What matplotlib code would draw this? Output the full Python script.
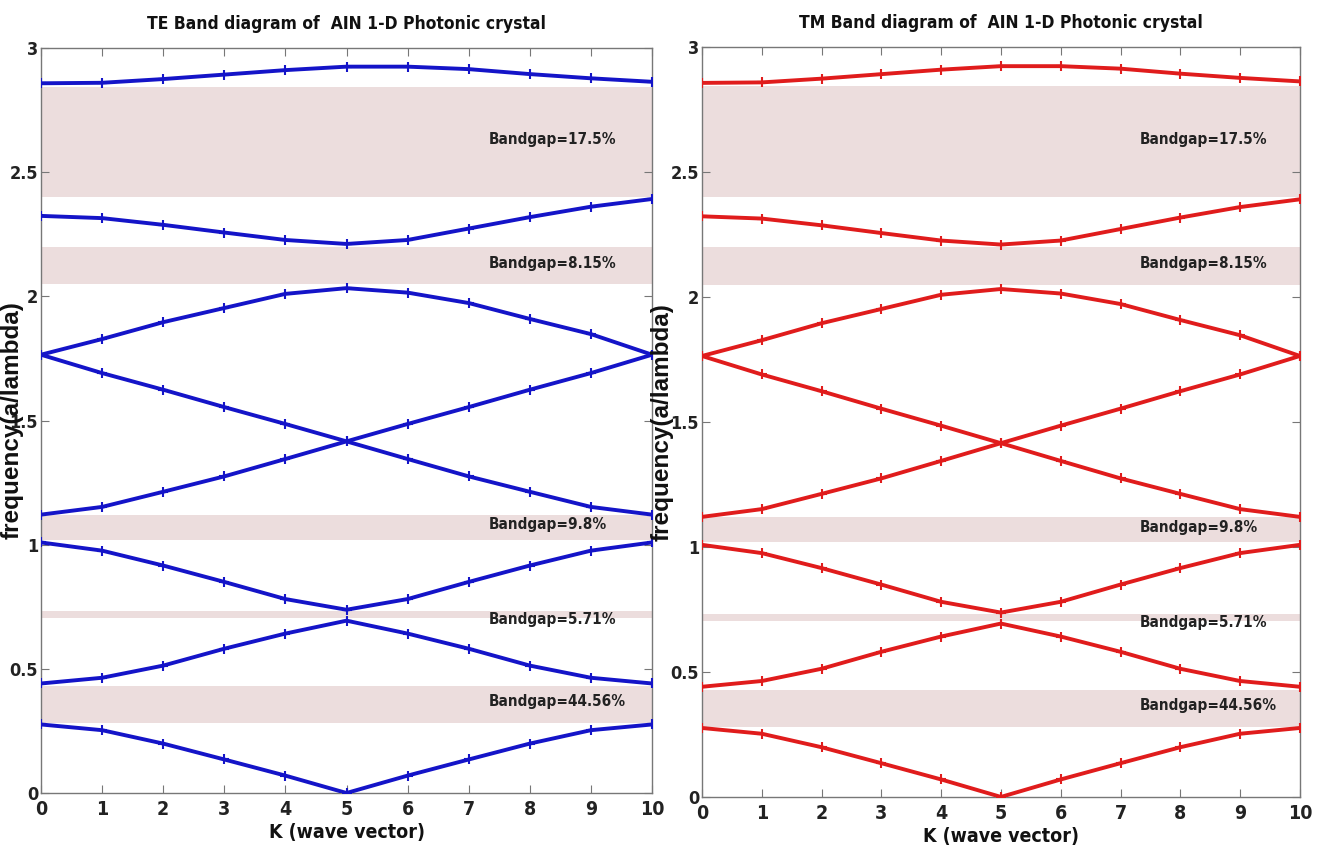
import numpy as np
import matplotlib
matplotlib.use("Agg")
import matplotlib.pyplot as plt
from matplotlib import font_manager as fm

# wave vector samples
k = np.arange(0, 11)

# bands (same for TE and TM)
band1 = [0.276, 0.253, 0.199, 0.135, 0.070, 0.0, 0.070, 0.135, 0.199, 0.253, 0.276]
band2 = [0.441, 0.464, 0.513, 0.581, 0.642, 0.694, 0.642, 0.581, 0.513, 0.464, 0.441]
band3 = [1.009, 0.976, 0.916, 0.850, 0.781, 0.738, 0.781, 0.850, 0.916, 0.976, 1.009]
band4 = [1.121, 1.152, 1.213, 1.275, 1.345, 1.416, 1.345, 1.275, 1.213, 1.152, 1.121]
band5 = [1.765, 1.691, 1.624, 1.554, 1.486, 1.416, 1.486, 1.554, 1.624, 1.691, 1.765]
band6 = [1.765, 1.828, 1.896, 1.953, 2.010, 2.033, 2.015, 1.973, 1.909, 1.848, 1.765]
band7 = [2.324, 2.315, 2.288, 2.257, 2.227, 2.211, 2.227, 2.273, 2.319, 2.361, 2.392]
band8 = [2.858, 2.860, 2.875, 2.893, 2.911, 2.925, 2.925, 2.915, 2.895, 2.878, 2.864]
bands = [band1, band2, band3, band4, band5, band6, band7, band8]

# band gaps (bottom, top) and their labels
gap_lo = [2.402, 2.050, 1.020, 0.705, 0.280]
gap_hi = [2.845, 2.200, 1.121, 0.732, 0.430]
gap_labels = ["Bandgap=17.5%", "Bandgap=8.15%", "Bandgap=9.8%", "Bandgap=5.71%", "Bandgap=44.56%"]
label_y = [2.63, 2.134, 1.08, 0.698, 0.367]

# the original is squeezed sideways, so look for a condensed bold font
cond_path = None
for want in ["DejaVuSansCondensed-Bold.ttf", "RobotoCondensed-Bold.ttf",
             "LiberationSansNarrow-Bold.ttf", "OpenSans_Condensed-Bold.ttf"]:
    for f in fm.fontManager.ttflist:
        if f.fname.endswith(want):
            cond_path = f.fname
            break
    if cond_path:
        break


def nfont(size):
    if cond_path:
        return fm.FontProperties(fname=cond_path, size=size)
    return fm.FontProperties(family="Liberation Sans", weight="bold", size=size * 0.9)


wide = fm.FontProperties(family="Liberation Sans", weight="bold", size=17.5)

fig = plt.figure(figsize=(13.17, 8.56), dpi=100)


def draw_panel(rect, color, title, ylabel_x):
    ax = fig.add_axes(rect)
    for lo, hi in zip(gap_lo, gap_hi):
        ax.axhspan(lo, hi, color="#ecdddd", lw=0, zorder=0)
    for b in bands:
        ax.plot(k, b, color=color, lw=2.8, marker="+", ms=7, mew=1.5, zorder=3)
    for txt, y in zip(gap_labels, label_y):
        ax.text(7.32, y, txt, fontproperties=nfont(11),
                color="#222222", va="center", ha="left", zorder=4)
    ax.set_xlim(0, 10)
    ax.set_ylim(0, 3)
    ax.set_xticks(range(0, 11))
    ax.set_yticks([0, 0.5, 1, 1.5, 2, 2.5, 3])
    ax.set_yticklabels(["0", "0.5", "1", "1.5", "2", "2.5", "3"])
    ax.tick_params(direction="in", top=True, right=True, length=6, width=0.8,
                   color="#777777")
    ax.tick_params(axis="x", pad=5)
    ax.tick_params(axis="y", pad=2)
    for lab in ax.get_xticklabels():
        lab.set_fontproperties(nfont(14))
        lab.set_color("#222222")
    for lab in ax.get_yticklabels():
        lab.set_fontproperties(nfont(13))
        lab.set_color("#222222")
    for s in ax.spines.values():
        s.set_color("#777777")
        s.set_linewidth(1.0)
    ax.set_title(title, fontproperties=nfont(12.5), color="#111111", pad=14)
    ax.set_xlabel("K (wave vector)", fontproperties=nfont(14),
                  color="#111111", labelpad=3)
    ax.set_ylabel("frequency(a/lambda)", fontproperties=wide, color="#111111")
    ax.yaxis.set_label_coords(ylabel_x, 0.5)
    return ax


draw_panel([0.0311, 0.0736, 0.4640, 0.8703], "#1414c8",
           "TE Band diagram of  AIN 1-D Photonic crystal", -0.029)
draw_panel([0.5330, 0.0690, 0.4540, 0.8756], "#e01c1c",
           "TM Band diagram of  AIN 1-D Photonic crystal", -0.047)

fig.savefig("out.png", dpi=100)
